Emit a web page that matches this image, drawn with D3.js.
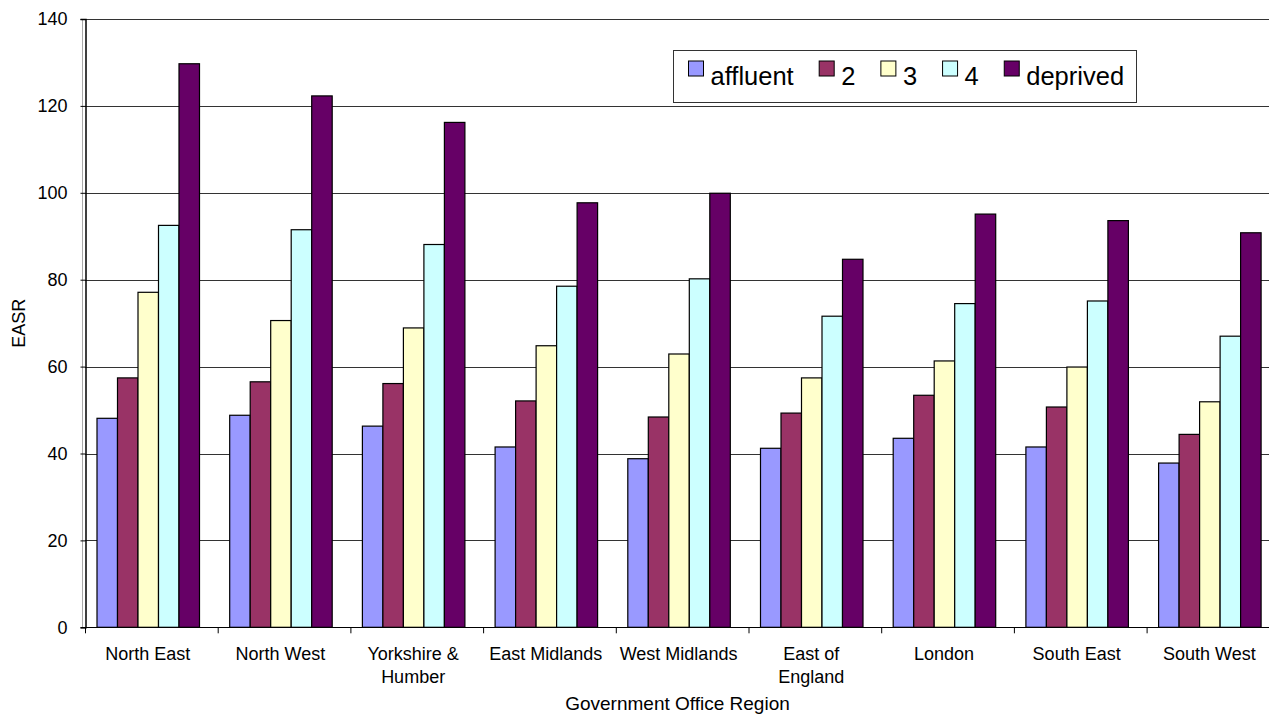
<!DOCTYPE html>
<html>
<head>
<meta charset="utf-8">
<script src="https://cdn.jsdelivr.net/npm/d3@7"></script>
<style>
  html, body { margin: 0; padding: 0; background: #fff; }
  svg { display: block; }
  text { font-family: "Liberation Sans", Arial, sans-serif; fill: #000; }
</style>
</head>
<body>
<svg id="chart" width="1269" height="714"></svg>
<script>
const categories = ["North East", "North West", "Yorkshire &\nHumber", "East Midlands", "West Midlands", "East of\nEngland", "London", "South East", "South West"];
const seriesNames = ["affluent", "2", "3", "4", "deprived"];
const affluent = [48.1, 48.8, 46.3, 41.5, 38.8, 41.2, 43.5, 41.5, 37.8];
const q2       = [57.4, 56.5, 56.1, 52.1, 48.4, 49.3, 53.4, 50.7, 44.4];
const q3       = [77.1, 70.6, 68.9, 64.8, 62.9, 57.4, 61.3, 59.9, 51.9];
const q4       = [92.5, 91.5, 88.1, 78.5, 80.2, 71.6, 74.5, 75.1, 67.0];
const deprived = [129.7, 122.3, 116.2, 97.7, 99.9, 84.7, 95.1, 93.6, 90.8];
const yTicks = [0, 20, 40, 60, 80, 100, 120, 140];
const colors = ["#9999FF", "#993366", "#FFFFCC", "#CCFFFF", "#660066"];
const xTitle = "Government Office Region";
const yTitle = "EASR";

const seriesValues = [affluent, q2, q3, q4, deprived];

const svg = d3.select("#chart");
const axisX0 = 85;
const step = 132.7;
const plotTop = 19, plotBottom = 627.3;

const x0 = d3.scaleBand().domain(categories).range([axisX0, axisX0 + step * categories.length]).padding(0);
const x1 = d3.scaleBand().domain(seriesNames).range([11.5, 11.5 + 102.5]).padding(0);
const y = d3.scaleLinear().domain([0, 140]).range([plotBottom, plotTop]);
const color = d3.scaleOrdinal().domain(seriesNames).range(colors);

svg.append("line").attr("x1", 82.5).attr("x2", 82.5).attr("y1", y(140)).attr("y2", y(0))
  .attr("stroke", "#aaa").attr("stroke-width", 1);

svg.append("g").selectAll("line").data(yTicks.filter(d => d > 0)).join("line")
  .attr("x1", axisX0).attr("x2", 1269)
  .attr("y1", d => Math.round(y(d)) + 0.5).attr("y2", d => Math.round(y(d)) + 0.5)
  .attr("stroke", "#333").attr("stroke-width", 1);

const rows = categories.map((c, ci) => ({ cat: c, vals: seriesNames.map((s, si) => ({ s, v: seriesValues[si][ci] })) }));
svg.append("g").selectAll("g").data(rows).join("g")
  .attr("transform", d => `translate(${x0(d.cat)},0)`)
  .selectAll("rect").data(d => d.vals).join("rect")
  .attr("x", d => x1(d.s) + 0.5)
  .attr("y", d => y(d.v))
  .attr("width", x1.bandwidth())
  .attr("height", d => y(0) - y(d.v))
  .attr("fill", d => color(d.s))
  .attr("stroke", "#000").attr("stroke-width", 1.2);

const yAxis = d3.axisLeft(y).tickValues(yTicks).tickSize(5).tickPadding(13).tickFormat(d3.format("d"));
const gy = svg.append("g").attr("transform", `translate(${axisX0 + 0.5},0)`).call(yAxis);
gy.select(".domain").attr("stroke", "#000").attr("stroke-width", 1.5);
gy.selectAll(".tick line").attr("stroke", "#000");
gy.selectAll(".tick text").attr("font-size", 18).attr("font-family", '"Liberation Sans", Arial, sans-serif').attr("fill", "#000");

svg.append("line").attr("x1", axisX0).attr("x2", 1269).attr("y1", Math.round(y(0)) + 0.5).attr("y2", Math.round(y(0)) + 0.5)
  .attr("stroke", "#000").attr("stroke-width", 1.2);
svg.append("g").selectAll("line").data(d3.range(categories.length + 1)).join("line")
  .attr("x1", i => axisX0 + 0.5 + i * x0.step()).attr("x2", i => axisX0 + 0.5 + i * x0.step())
  .attr("y1", y(0)).attr("y2", y(0) + 6)
  .attr("stroke", "#000");

const xl = svg.append("g").selectAll("text").data(categories).join("text")
  .attr("text-anchor", "middle")
  .attr("font-size", 18)
  .attr("x", d => x0(d) + 11.5 + 51.25)
  .attr("y", 659.5);
xl.each(function(d) {
  const lines = d.split("\n");
  d3.select(this).selectAll("tspan").data(lines).join("tspan")
    .attr("x", d3.select(this).attr("x"))
    .attr("dy", (l, i) => i === 0 ? 0 : 23)
    .text(l => l);
});

svg.append("text").attr("x", 677.5).attr("y", 709.5).attr("text-anchor", "middle")
  .attr("font-size", 19).text(xTitle);
svg.append("text").attr("transform", `translate(24.5,${(plotTop + plotBottom) / 2}) rotate(-90)`)
  .attr("text-anchor", "middle").attr("font-size", 18).text(yTitle);

const lg = svg.append("g");
lg.append("rect").attr("x", 673.5).attr("y", 50.5).attr("width", 463).attr("height", 52)
  .attr("fill", "#fff").attr("stroke", "#333").attr("stroke-width", 1);
let lx = 688.5;
seriesNames.forEach((s, i) => {
  lg.append("rect").attr("x", lx).attr("y", 61).attr("width", 15).attr("height", 15)
    .attr("fill", color(s)).attr("stroke", "#000").attr("stroke-width", 1);
  const t = lg.append("text").attr("x", lx + 22).attr("y", 85).attr("font-size", 25.5).text(s);
  lx += 22 + t.node().getComputedTextLength() + 25.5;
});
</script>
</body>
</html>
